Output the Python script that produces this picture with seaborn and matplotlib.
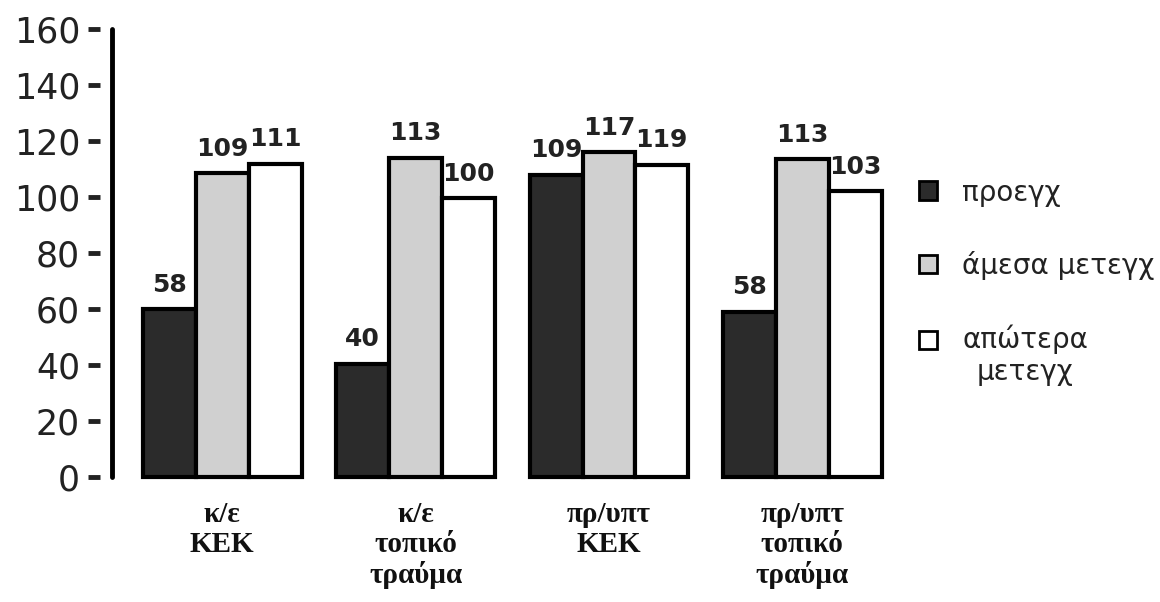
import matplotlib
matplotlib.use("Agg")
import matplotlib.pyplot as plt
import matplotlib.patches as mpatches
from matplotlib.legend_handler import HandlerPatch
import pandas as pd
import seaborn as sns

# Groups along the x axis.
groups = ["κ/ε\nKEK", "κ/ε\nτοπικό\nτραύμα", "πρ/υπτ\nKEK", "πρ/υπτ\nτοπικό\nτραύμα"]
series = ["προεγχ", "άμεσα μετεγχ", "απώτερα\nμετεγχ"]

# Bar heights as drawn in the picture, and the numbers printed above them.
pre_heights = [60, 40.5, 108, 59]
post_heights = [108.5, 114, 116, 113.5]
late_heights = [112, 99.5, 111.5, 102]
pre_labels = ["58", "40", "109", "58"]
post_labels = ["109", "113", "117", "113"]
late_labels = ["111", "100", "119", "103"]

colors = ["#2b2b2b", "#d0d0d0", "#ffffff"]

df = pd.DataFrame({
    "group": groups * 3,
    "series": [series[0]] * 4 + [series[1]] * 4 + [series[2]] * 4,
    "value": pre_heights + post_heights + late_heights,
})

sns.set_style("white")
plt.rcParams["font.family"] = ["DejaVu Sans"]

fig = plt.figure(figsize=(11.6, 6.02), dpi=100)
ax = fig.add_axes([0.0966, 0.2076, 0.68, 0.744])

sns.barplot(data=df, x="group", y="value", hue="series", order=groups, hue_order=series,
            palette=colors, edgecolor="black", linewidth=3, width=0.82, saturation=1,
            legend=False, ax=ax)

for p in ax.patches:
    p.set_clip_on(False)

# Value labels above bars.
all_labels = [pre_labels, post_labels, late_labels]
for container, labels in zip(ax.containers, all_labels):
    ax.bar_label(container, labels=labels, padding=9, fontsize=18, fontweight="bold",
                 color="#222222")

ax.set_ylim(0, 160)
ax.set_xlim(-0.57, 3.51)
ax.set_yticks(range(0, 161, 20))
ax.set_xlabel("")
ax.set_ylabel("")

for side in ["top", "right", "bottom"]:
    ax.spines[side].set_visible(False)
# Ticks sit a little apart from the axis line.
ax.spines["left"].set_position(("outward", 9))
ax.spines["left"].set_color("none")
ax.axvline(ax.get_xlim()[0], color="black", lw=3.5, clip_on=False)

ax.tick_params(axis="y", direction="out", length=9, width=3.5, color="#222222",
               labelsize=25, pad=5, left=True, labelcolor="#222222")
ax.tick_params(axis="x", length=0, pad=17)
for lbl in ax.get_xticklabels():
    lbl.set_fontfamily("Liberation Serif")
    lbl.set_fontweight("bold")
    lbl.set_fontsize(21)
    lbl.set_linespacing(1.15)
    lbl.set_color("#111111")


# The two-line legend entry has its box next to the first line.
def top_line_box(legend, orig_handle, xdescent, ydescent, width, height, fontsize):
    return mpatches.Rectangle((-xdescent, -ydescent + 0.6 * fontsize), width, height)


handles = [mpatches.Patch(facecolor=c, edgecolor="black", linewidth=2) for c in colors]
leg = fig.legend(handles, series, loc="upper left", bbox_to_anchor=(0.771, 0.745),
                 frameon=False, fontsize=20, handlelength=0.65, handleheight=0.65,
                 handletextpad=0.9, labelspacing=1.6,
                 handler_map={handles[2]: HandlerPatch(patch_func=top_line_box)})
for t in leg.get_texts():
    t.set_color("#222222")
    t.set_multialignment("center")

fig.savefig("out.png", dpi=100)
